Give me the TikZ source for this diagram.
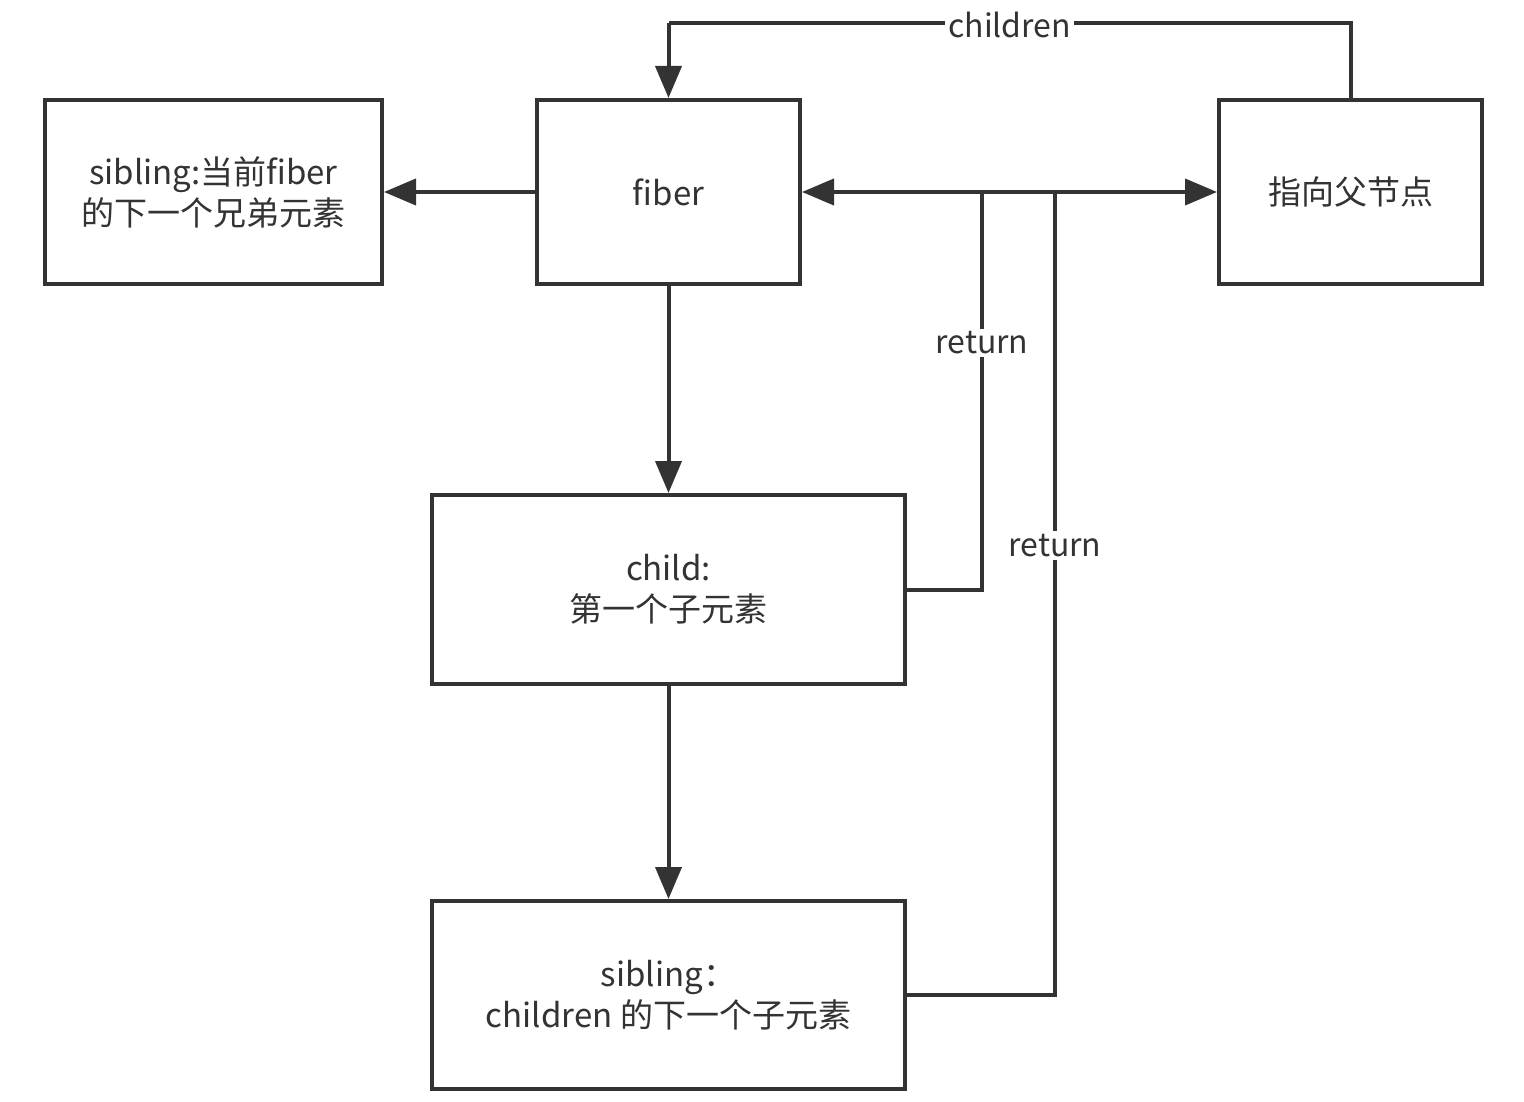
\documentclass[tikz,border=0pt]{standalone}
\usepackage{fontspec}
\setmainfont{Noto Sans CJK SC}
\usetikzlibrary{arrows.meta}
\definecolor{ink}{HTML}{333333}
\begin{document}
\begin{tikzpicture}[x=1pt,y=-1pt,
  box/.style={draw=ink, line width=4pt, fill=white, text=ink, align=center, inner sep=0pt,
    font=\fontsize{33pt}{41pt}\selectfont},
  conn/.style={draw=ink, line width=4pt},
  arr/.style={conn, -{Triangle[length=32pt,width=26pt]}},
  darr/.style={conn, {Triangle[length=32pt,width=26pt]}-{Triangle[length=32pt,width=26pt]}},
  lbl/.style={fill=white, text=ink, inner sep=3pt, font=\fontsize{32pt}{41pt}\selectfont}]
\useasboundingbox (0,0) rectangle (1524,1102);

\node[box, minimum width=337pt, minimum height=184pt] (sib) at (213.5,192) {sibling:当前fiber\\的下一个兄弟元素};
\node[box, minimum width=263pt, minimum height=184pt] (fiber) at (668.5,192) {fiber};
\node[box, minimum width=263pt, minimum height=184pt] (parent) at (1350.5,192) {指向父节点};
\node[box, minimum width=473pt, minimum height=189pt] (child) at (668.5,589.5) {child:\\第一个子元素};
\node[box, minimum width=473pt, minimum height=188pt] (sib2) at (668.5,995) {sibling：\\children 的下一个子元素};

\coordinate (ctop) at (1351,23);
\coordinate (ftop) at (668.5,23);
\coordinate (r1top) at (982,192);
\coordinate (r1bot) at (982,589.5);
\coordinate (r2top) at (1055,192);
\coordinate (r2bot) at (1055,995);

\draw[arr] (fiber.west) -- (sib.east);
\draw[conn] (parent.north -| ctop) -- (ctop) -- node[lbl, pos=0.5, yshift=-2pt]{children} (ftop);
\draw[arr] (ftop) -- (fiber.north);
\draw[darr] (fiber.east) -- (parent.west);
\draw[conn] (child.east) -- (r1bot) -- node[lbl, pos=0.62]{return} (r1top);
\draw[conn] (sib2.east) -- (r2bot) -- node[lbl, pos=0.56]{return} (r2top);
\draw[arr] (fiber.south) -- (child.north);
\draw[arr] (child.south) -- (sib2.north);
\end{tikzpicture}
\end{document}
